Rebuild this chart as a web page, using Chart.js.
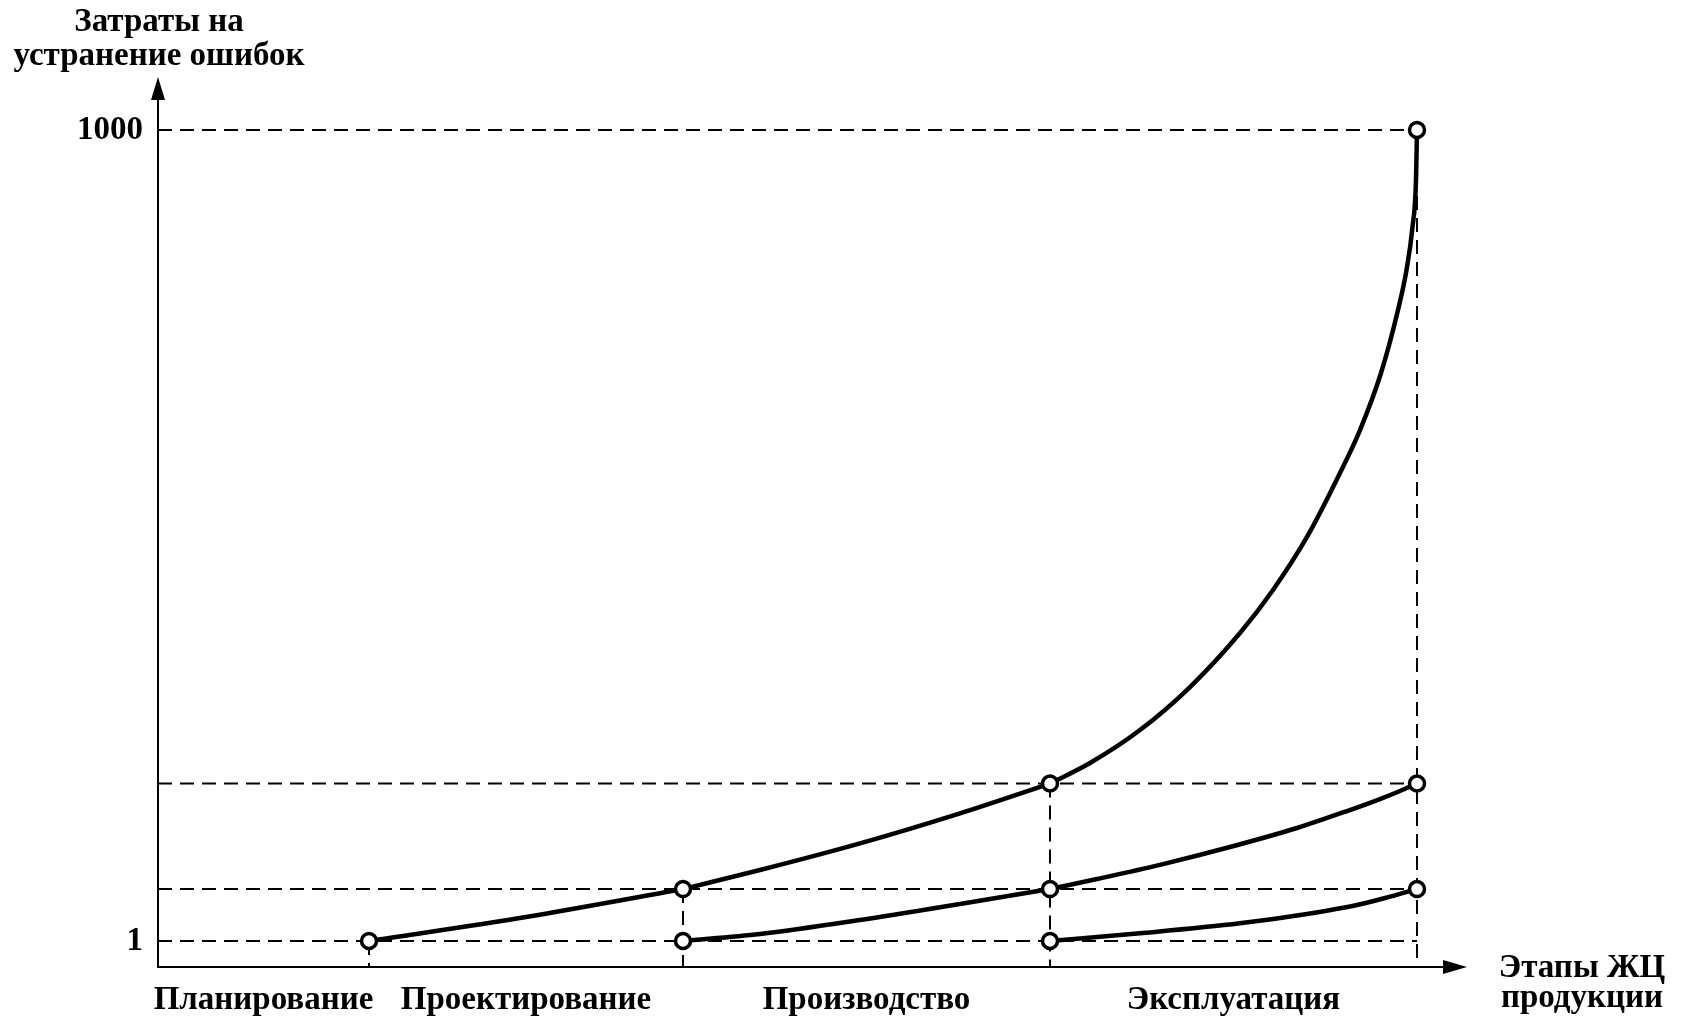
<!DOCTYPE html>
<html>
<head>
<meta charset="utf-8">
<script src="https://cdn.jsdelivr.net/npm/chart.js@4.4.0/dist/chart.umd.min.js"></script>
<style>
  html, body { margin: 0; padding: 0; background: #fff; }
</style>
</head>
<body>
<canvas id="chart" width="1683" height="1018"></canvas>
<script>
// stages of the product life cycle, x = stage boundaries (axis starts at 0)
var stageNames = ['Планирование', 'Проектирование', 'Производство', 'Эксплуатация'];
var stageEdges = [0, 2.11, 5.25, 8.92, 12.59];
var levels = [1, 65, 195, 1000];
var yTickValues = [1, 1000];

// cost curves (each one breaks at the stage edges)
var topX = [2.11, 3.68, 5.25, 6.02, 7.02, 8.02, 8.92, 9.32, 9.82, 10.32, 10.82, 11.15, 11.49, 11.82, 12.02, 12.23, 12.40, 12.485, 12.545, 12.58, 12.59];
var topY = [1, 30.6, 65, 88.5, 121.3, 158.3, 195, 220.3, 260.9, 313.9, 380.4, 433.4, 498.7, 577.5, 630.4, 700.7, 778.3, 827.5, 880.5, 938.4, 1000];
var midX = [5.25, 6.02, 7.02, 8.02, 8.92, 9.39, 10.05, 10.72, 11.39, 11.89, 12.22, 12.42, 12.59];
var midY = [1, 9.6, 26.9, 46.6, 65, 77.4, 95.8, 116.8, 140.2, 161.1, 175.9, 185.8, 195];
var lowX = [8.92, 9.82, 10.82, 11.49, 11.99, 12.32, 12.59];
var lowY = [1, 10.5, 22.8, 34.3, 45.3, 55.6, 65];

// the circles
var markX = [2.11, 5.25, 8.92, 12.59, 5.25, 8.92, 12.59, 8.92, 12.59];
var markY = [1, 65, 195, 1000, 1, 65, 195, 1, 65];

var xMax = 12.85, yMin = -31, yMax = 1037;
var FONT = '"Liberation Serif", "Times New Roman", serif';

// split a curve into pieces between stage edges
function pieces(xs, ys) {
  var out = [], cur = [];
  xs.forEach(function (v, i) {
    cur.push({ x: v, y: ys[i] });
    if (cur.length > 1 && stageEdges.indexOf(v) >= 0) {
      out.push(cur);
      cur = [{ x: v, y: ys[i] }];
    }
  });
  return out;
}

var datasets = [];
datasets.push({
  data: markX.map(function (v, i) { return { x: v, y: markY[i] }; }),
  showLine: false,
  pointRadius: 7.5,
  pointBorderWidth: 3.5,
  pointBackgroundColor: '#fff',
  pointBorderColor: '#000'
});
[[topX, topY], [midX, midY], [lowX, lowY]].forEach(function (c) {
  pieces(c[0], c[1]).forEach(function (p) {
    datasets.push({
      data: p,
      borderColor: '#000',
      borderWidth: 4.5,
      pointRadius: 0,
      cubicInterpolationMode: 'monotone',
      fill: false
    });
  });
});
// dashed guide lines
levels.forEach(function (lv) {
  datasets.push({
    data: [{ x: 0, y: lv }, { x: stageEdges[4], y: lv }],
    borderColor: '#000', borderWidth: 2, borderDash: [14, 8], pointRadius: 0
  });
});
stageEdges.slice(1).forEach(function (e, i) {
  datasets.push({
    data: [{ x: e, y: levels[i] }, { x: e, y: yMin }],
    borderColor: '#000', borderWidth: 2, borderDash: [14, 8], pointRadius: 0
  });
});

var extras = {
  id: 'extras',
  afterDraw: function (chart) {
    var ctx = chart.ctx, a = chart.chartArea;
    ctx.save();
    ctx.fillStyle = '#000';
    // arrow heads
    ctx.beginPath();
    ctx.moveTo(a.left, a.top - 23);
    ctx.lineTo(a.left - 7, a.top);
    ctx.lineTo(a.left + 7, a.top);
    ctx.closePath();
    ctx.fill();
    ctx.beginPath();
    ctx.moveTo(a.right + 24, a.bottom);
    ctx.lineTo(a.right, a.bottom - 7);
    ctx.lineTo(a.right, a.bottom + 7);
    ctx.closePath();
    ctx.fill();
    // axis titles
    ctx.font = 'bold 33px ' + FONT;
    ctx.textAlign = 'center';
    ctx.textBaseline = 'alphabetic';
    ctx.fillText('Затраты на', a.left + 1, 31);
    ctx.fillText('устранение ошибок', a.left + 1, 65);
    ctx.fillText('Этапы ЖЦ', 1582, 977);
    ctx.fillText('продукции', 1582, 1007);
    ctx.restore();
  }
};

new Chart(document.getElementById('chart'), {
  type: 'line',
  data: { datasets: datasets },
  plugins: [extras],
  options: {
    responsive: false,
    animation: false,
    layout: { padding: { top: 100, right: 240, left: 0, bottom: 0 } },
    plugins: { legend: { display: false }, tooltip: { enabled: false } },
    scales: {
      x: {
        type: 'linear', min: 0, max: xMax,
        grid: { display: false },
        border: { display: true, color: '#000', width: 2 },
        afterBuildTicks: function (s) {
          s.ticks = stageNames.map(function (n, i) {
            return { value: (stageEdges[i] + stageEdges[i + 1]) / 2 };
          });
        },
        afterFit: function (s) { s.height = 51; },
        ticks: {
          color: '#000', padding: 6, maxRotation: 0, autoSkip: false,
          font: { family: FONT, size: 33, weight: 'bold' },
          callback: function (v, i) { return stageNames[i]; }
        }
      },
      y: {
        type: 'linear', min: yMin, max: yMax,
        grid: { display: false },
        border: { display: true, color: '#000', width: 2 },
        afterBuildTicks: function (s) {
          s.ticks = yTickValues.map(function (v) { return { value: v }; });
        },
        afterFit: function (s) { s.width = 158; },
        ticks: {
          color: '#000', padding: 7,
          font: { family: FONT, size: 33, weight: 'bold' },
          callback: function (v) { return String(v); }
        }
      }
    }
  }
});
</script>
</body>
</html>
